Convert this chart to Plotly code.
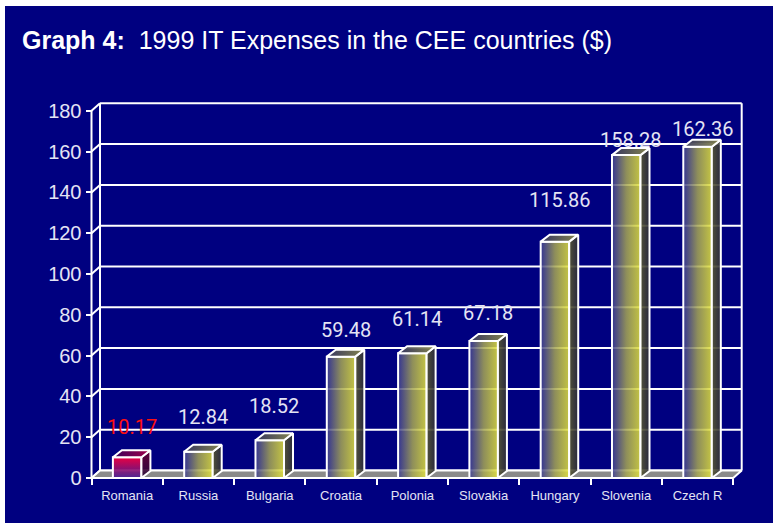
import plotly.graph_objects as go

# ---------------- data ----------------
categories = ["Romania", "Russia", "Bulgaria", "Croatia", "Polonia",
              "Slovakia", "Hungary", "Slovenia", "Czech R"]
values = [10.17, 12.84, 18.52, 59.48, 61.14, 67.18, 115.86, 158.28, 162.36]
value_labels = ["10.17", "12.84", "18.52", "59.48", "61.14", "67.18",
                "115.86", "158.28", "162.36"]
y_ticks = [0, 20, 40, 60, 80, 100, 120, 140, 160, 180]
highlight = "Romania"

# ---------------- style / geometry ----------------
label_lift_px = [30, 35, 34, 27, 34, 28, 42, 15, 18]   # label placement above each bar
NAVY = "#000080"
TXT = "#e4e4f4"
W, H = 773, 523
L, R, T, B = 89, 748, 100, 480          # plot area (px)
X0PX, Y0PX = 91.5, 478                  # front origin (px)
CAT_PX, UNIT_PX = 71.3, 2.04
n = len(categories)
top = max(y_ticks)
xr0 = (L - X0PX) / CAT_PX
xr1 = (R - X0PX) / CAT_PX
yr0 = (Y0PX - B) / UNIT_PX
yr1 = (Y0PX - T) / UNIT_PX
DX, DY = 8.5 / CAT_PX, 7.5 / UNIT_PX     # wall depth
bDX, bDY = 9 / CAT_PX, 7 / UNIT_PX       # bar depth
BW = 0.4

fig = go.Figure()

# floor
fig.add_trace(go.Scatter(
    x=[0, n, n + DX, DX, 0], y=[0, 0, DY, DY, 0], mode="lines",
    fill="toself", fillcolor="#8a8a8a", line=dict(color="white", width=2),
    hoverinfo="skip", showlegend=False))

# bars (3D boxes)
for i, (cat, v) in enumerate(zip(categories, values)):
    c = i + 0.5
    xl, xr = c - BW / 2, c + BW / 2
    hi = cat == highlight
    if hi:
        front_grad = dict(type="vertical",
                          colorscale=[[0, "rgba(70,30,150,0.92)"], [1, "rgba(255,0,60,0.92)"]])
        side_grad = dict(type="vertical",
                         colorscale=[[0, "rgba(40,10,60,0.92)"], [1, "rgba(110,0,50,0.92)"]])
        top_grad = dict(type="horizontal",
                        colorscale=[[0, "rgba(60,0,90,0.95)"], [1, "rgba(170,0,70,0.95)"]])
    else:
        front_grad = dict(type="horizontal",
                          colorscale=[[0, "rgba(60,60,150,0.86)"], [0.5, "rgba(165,165,85,0.86)"],
                                      [1, "rgba(228,228,58,0.86)"]])
        side_grad = dict(type="horizontal",
                         colorscale=[[0, "rgba(90,90,50,0.9)"], [1, "rgba(45,45,55,0.9)"]])
        top_grad = dict(type="horizontal",
                        colorscale=[[0, "rgba(55,55,95,0.95)"], [1, "rgba(140,140,75,0.95)"]])
    faces = [
        ([xl, xr, xr, xl, xl], [0, 0, v, v, 0], front_grad),
        ([xr, xr + bDX, xr + bDX, xr, xr], [0, bDY, v + bDY, v, 0], side_grad),
        ([xl, xr, xr + bDX, xl + bDX, xl], [v, v, v + bDY, v + bDY, v], top_grad),
    ]
    for fx, fy, grad in faces:
        fig.add_trace(go.Scatter(
            x=fx, y=fy, mode="lines", fill="toself", fillgradient=grad,
            line=dict(color="white", width=2), hoverinfo="skip", showlegend=False))
    fig.add_annotation(
        x=c + bDX / 2, y=v, yshift=label_lift_px[i], text=value_labels[i],
        showarrow=False, yanchor="middle", xanchor="center",
        font=dict(family="Roboto, Liberation Sans, sans-serif", size=20,
                  color="#ff1010" if hi else TXT))

# walls and grid (below traces)
shapes = []
line_w = dict(color="white", width=2)
for v in y_ticks:
    shapes.append(dict(type="line", xref="x", yref="y", x0=DX, y0=v + DY,
                       x1=n + DX, y1=v + DY, line=line_w, layer="below"))
    shapes.append(dict(type="line", xref="x", yref="y", x0=0, y0=v,
                       x1=DX, y1=v + DY, line=line_w, layer="below"))
shapes.append(dict(type="line", xref="x", yref="y", x0=DX, y0=DY, x1=DX, y1=top + DY,
                   line=line_w, layer="below"))
shapes.append(dict(type="line", xref="x", yref="y", x0=n + DX, y0=DY, x1=n + DX,
                   y1=top + DY, line=line_w, layer="below"))
shapes.append(dict(type="line", xref="x", yref="y", x0=0, y0=0, x1=0, y1=top,
                   line=line_w, layer="below"))
# white frame strips at top/left of the image
pw, ph = R - L, B - T
shapes.append(dict(type="rect", xref="paper", yref="paper",
                   x0=(0 - L) / pw - 0.1, x1=(W - L) / pw + 0.1,
                   y0=(B - 6) / ph, y1=(B - 0) / ph + 0.1,
                   fillcolor="white", line=dict(width=0), layer="above"))
shapes.append(dict(type="rect", xref="paper", yref="paper",
                   x0=(0 - L) / pw - 0.1, x1=(5 - L) / pw,
                   y0=(B - H) / ph - 0.1, y1=(B - 0) / ph + 0.1,
                   fillcolor="white", line=dict(width=0), layer="above"))

fig.update_layout(
    width=W, height=H,
    margin=dict(l=L, r=W - R, t=T, b=H - B, pad=0),
    paper_bgcolor=NAVY, plot_bgcolor=NAVY,
    shapes=shapes,
    showlegend=False,
    title=dict(
        text="<b>Graph 4:</b>\u00a0\u00a01999 IT Expenses in the CEE countries ($)",
        x=22 / W, xanchor="left", xref="container",
        y=1 - 40 / H, yanchor="middle", yref="container",
        font=dict(family="Liberation Sans, Arial, sans-serif", size=25, color="white")),
    xaxis=dict(
        range=[xr0, xr1], showgrid=False, zeroline=False, showline=False,
        anchor="free", position=(B - Y0PX) / ph,
        tickmode="array", tickvals=[i + 0.5 for i in range(n)], ticktext=categories,
        ticks="", tickfont=dict(family="Liberation Sans, Arial, sans-serif", size=13, color=TXT),
        ticklabelstandoff=8,
        minor=dict(tickmode="array", tickvals=list(range(n + 1)), ticks="outside",
                   ticklen=6, tickwidth=2, tickcolor="white", showgrid=False),
        fixedrange=True),
    yaxis=dict(
        range=[yr0, yr1], showgrid=False, zeroline=False, showline=False,
        anchor="free", position=(X0PX - L) / pw,
        tickmode="array", tickvals=y_ticks, ticktext=[str(t) for t in y_ticks],
        ticks="outside", ticklen=6, tickwidth=2, tickcolor="white",
        tickfont=dict(family="Liberation Sans, Arial, sans-serif", size=20, color=TXT),
        fixedrange=True),
)

fig.write_html("out.html", config={"displayModeBar": False},
               post_script="document.body.style.margin='0';document.body.style.overflow='hidden';")
